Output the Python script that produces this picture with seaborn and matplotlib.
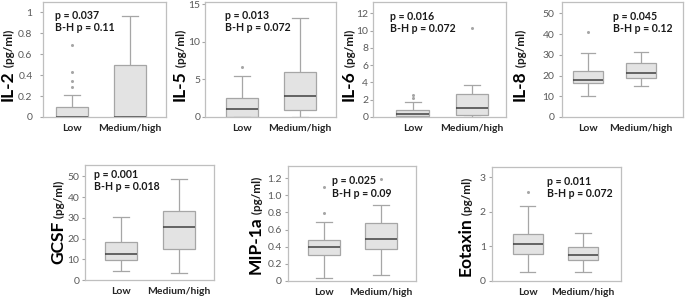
import numpy as np
import pandas as pd
import matplotlib
matplotlib.use("Agg")
import matplotlib.pyplot as plt
import seaborn as sns

# --- DATA ---
groups = ["Low", "Medium/high"]

# five-number summaries: [whisker low, q1, median, q3, whisker high]
il2_low = [0.0, 0.0, 0.0, 0.10, 0.21]
il2_high = [0.0, 0.0, 0.0, 0.50, 0.97]
il2_out_low = [0.29, 0.34, 0.43, 0.69]
il2_out_high = []

il5_low = [0.0, 0.0, 1.12, 2.47, 5.4]
il5_high = [0.0, 0.99, 2.83, 6.05, 13.2]
il5_out_low = [6.7]
il5_out_high = []

il6_low = [0.0, 0.12, 0.3, 0.85, 1.74]
il6_high = [0.0, 0.2, 1.08, 2.7, 3.75]
il6_out_low = [2.24, 2.59]
il6_out_high = [10.35]

il8_low = [10.2, 16.4, 17.7, 22.3, 31.0]
il8_high = [14.8, 18.9, 21.0, 26.3, 31.5]
il8_out_low = [40.8]
il8_out_high = []

gcsf_low = [4.4, 9.7, 12.4, 18.5, 30.3]
gcsf_high = [3.5, 14.8, 25.5, 33.5, 48.9]
gcsf_out_low = []
gcsf_out_high = []

mip_low = [0.03, 0.30, 0.40, 0.48, 0.69]
mip_high = [0.07, 0.37, 0.49, 0.68, 0.89]
mip_out_low = [0.79, 1.09]
mip_out_high = [1.19]

eot_low = [0.25, 0.78, 1.07, 1.36, 2.18]
eot_high = [0.27, 0.62, 0.74, 0.97, 1.38]
eot_out_low = [2.57]
eot_out_high = []

names = ["IL-2", "IL-5", "IL-6", "IL-8", "GCSF", "MIP-1a", "Eotaxin"]
p_values = ["0.037", "0.013", "0.016", "0.045", "0.001", "0.025", "0.011"]
bh_values = ["0.11", "0.072", "0.072", "0.12", "0.018", "0.09", "0.072"]

yticks = [
    [0, 0.2, 0.4, 0.6, 0.8, 1],
    [0, 5, 10, 15],
    [0, 2, 4, 6, 8, 10, 12],
    [0, 10, 20, 30, 40, 50],
    [0, 10, 20, 30, 40, 50],
    [0, 0.2, 0.4, 0.6, 0.8, 1.0, 1.2],
    [0, 1, 2, 3],
]
yticklabels = [
    ["0", "0.2", "0.4", "0.6", "0.8", "1"],
    ["0", "5", "10", "15"],
    ["0", "2", "4", "6", "8", "10", "12"],
    ["0", "10", "20", "30", "40", "50"],
    ["0", "10", "20", "30", "40", "50"],
    ["0", "0.2", "0.4", "0.6", "0.8", "1.0", "1.2"],
    ["0", "1", "2", "3"],
]

stats = [
    (il2_low, il2_high, il2_out_low, il2_out_high),
    (il5_low, il5_high, il5_out_low, il5_out_high),
    (il6_low, il6_high, il6_out_low, il6_out_high),
    (il8_low, il8_high, il8_out_low, il8_out_high),
    (gcsf_low, gcsf_high, gcsf_out_low, gcsf_out_high),
    (mip_low, mip_high, mip_out_low, mip_out_high),
    (eot_low, eot_high, eot_out_low, eot_out_high),
]

# --- LAYOUT (pixels): frame left, right, top, bottom ---
W, H = 685, 297
frames = [
    (43, 166, 2, 117),
    (205, 336, 2, 117),
    (373, 506, 2, 117),
    (562, 683, 2, 117),
    (85, 214, 165, 280),
    (288, 416, 166, 281),
    (492, 621, 167, 281),
]
xlims = [(-0.5, 1.62), (-0.64, 1.62), (-0.67, 1.57), (-0.49, 1.79),
         (-0.62, 1.6), (-0.63, 1.61), (-0.65, 1.69)]
ylims = [(0, 1.1), (0, 15.3), (0, 13.3), (0, 55.5), (0, 55.5), (0, 1.34), (0, 3.3)]
label_x = [13, 185, 354, 525, 63, 261, 471]
label_dy = [-6, -6, -6, -6, 0, -2, -3]
ypads = [5, 1, 1, 3, 1.5, 2, 2]
text_pos = [(0.10, 0.885), (0.15, 0.885), (0.13, 0.875), (0.42, 0.875),
            (0.07, 0.92), (0.34, 0.87), (0.43, 0.87)]

box_fill = "#e3e3e3"
line_gray = "#a6a6a6"
frame_gray = "#bfbfbf"
median_col = "#404040"

plt.rcParams["font.family"] = ["Lato", "DejaVu Sans"]
fig = plt.figure(figsize=(W / 100, H / 100), dpi=100)

labels = []
for i, name in enumerate(names):
    L, R, T, B = frames[i]
    ax = fig.add_axes([L / W, (H - B) / H, (R - L) / W, (B - T) / H])
    low, high, out_low, out_high = stats[i]

    box_df = pd.DataFrame({
        "group": [groups[0]] * len(low) + [groups[1]] * len(high),
        "value": low + high,
    })
    sns.boxplot(data=box_df, x="group", y="value", order=groups, ax=ax,
                whis=(0, 100), width=0.55, showfliers=False,
                color=box_fill, linecolor=line_gray, linewidth=0.9,
                medianprops={"color": median_col, "linewidth": 1.1})

    out_df = pd.DataFrame({
        "group": [groups[0]] * len(out_low) + [groups[1]] * len(out_high),
        "value": out_low + out_high,
    })
    if len(out_df):
        sns.stripplot(data=out_df, x="group", y="value", order=groups, ax=ax,
                      jitter=False, color=line_gray, size=2.2, linewidth=0)

    ax.set_xlim(*xlims[i])
    ax.set_ylim(*ylims[i])
    ax.set_yticks(yticks[i])
    ax.set_yticklabels(yticklabels[i])
    ax.set_xlabel("")
    ax.set_ylabel("")
    for sp in ax.spines.values():
        sp.set_visible(True)
        sp.set_color(frame_gray)
        sp.set_linewidth(0.9)
    ax.tick_params(axis="y", length=2.5, width=0.8, color=line_gray,
                   labelcolor="#595959", labelsize=7.5, pad=ypads[i])
    ax.tick_params(axis="x", length=0, labelsize=7.5, pad=5, labelcolor="#262626")
    for lab in ax.get_xticklabels():
        lab.set_fontweight("bold")

    tx, ty = text_pos[i]
    ax.text(tx, ty, f"p = {p_values[i]}", transform=ax.transAxes,
            fontsize=7.6, fontweight="bold", color="#1a1a1a", va="center")
    ax.text(tx, ty - 0.105, f"B-H p = {bh_values[i]}", transform=ax.transAxes,
            fontsize=7.6, fontweight="bold", color="#1a1a1a", va="center")

    # y label: bold name followed by smaller unit, rotated
    yc = H - (T + B) / 2 + label_dy[i]
    t1 = fig.text(label_x[i] / W, yc / H, name, rotation=90, rotation_mode="anchor",
                  ha="right", va="baseline", fontsize=12.5, fontweight="bold",
                  color="black")
    t2 = fig.text(label_x[i] / W, yc / H, " (pg/ml)", rotation=90,
                  rotation_mode="anchor", ha="left", va="baseline",
                  fontsize=8.5, fontweight="bold", color="#1a1a1a")
    labels.append((t1, t2, yc))

fig.canvas.draw()
r = fig.canvas.get_renderer()
for t1, t2, yc in labels:
    h1 = t1.get_window_extent(r).height
    h2 = t2.get_window_extent(r).height
    anchor = yc - (h2 - h1) / 2
    x, _ = t1.get_position()
    t1.set_position((x, anchor / H))
    t2.set_position((x, anchor / H))

fig.savefig("out.png", dpi=100)
